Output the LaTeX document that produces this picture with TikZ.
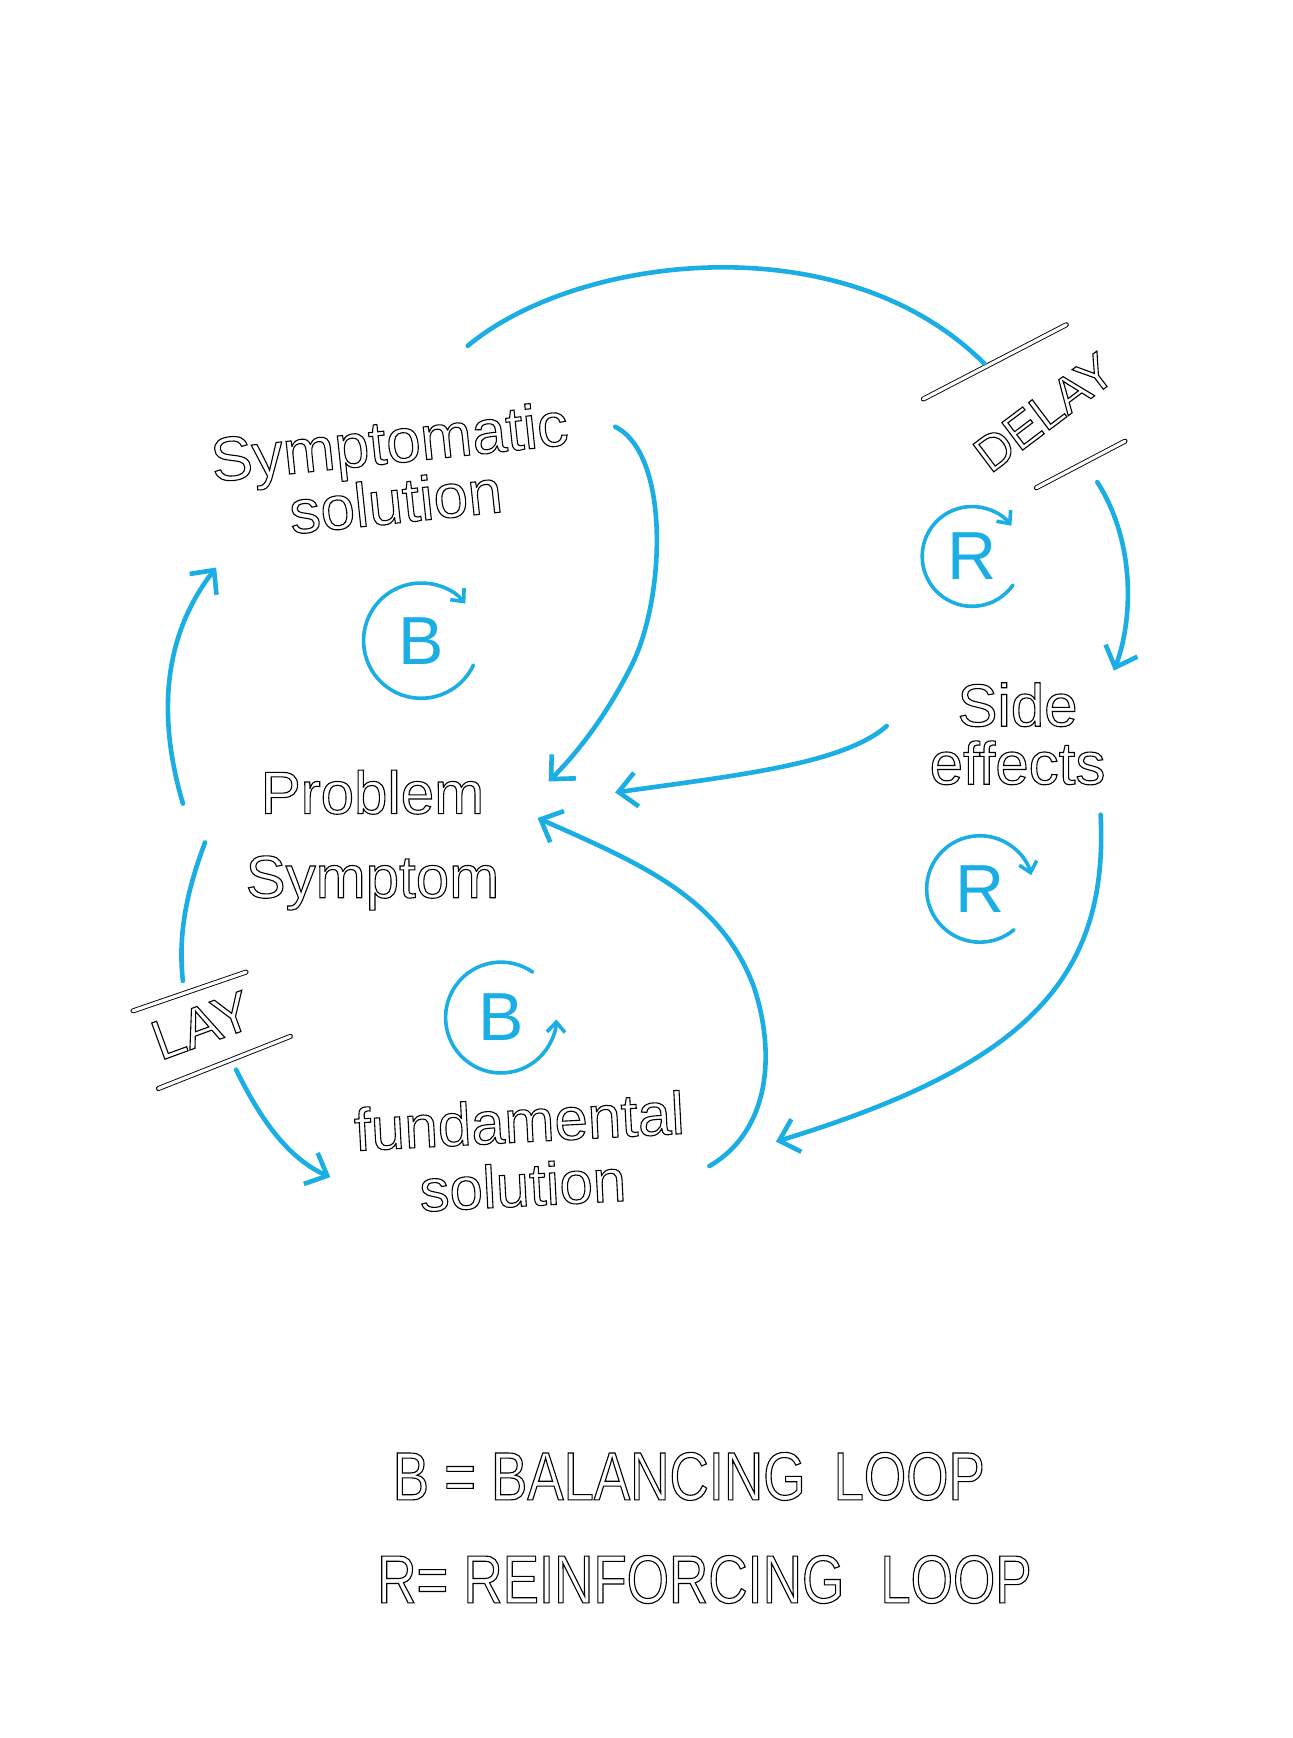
\documentclass[tikz,border=0pt]{standalone}
\usepackage{fontspec}
\setmainfont{Liberation Sans}
\newfontfamily\legendfont[FakeStretch=0.8]{Liberation Sans}
\usetikzlibrary{arrows.meta}
\definecolor{hblue}{RGB}{27,174,229}
\newcommand{\hw}[1]{\special{pdf:literal direct 1 Tr 0.55 w}#1\special{pdf:literal direct 0 Tr}}
\begin{document}
\begin{tikzpicture}[x=0.554pt,y=0.554pt,
  flow/.style={draw=hblue, line width=2.3pt, line cap=round, -{Straight Barb[length=9pt,width=17pt]}},
  flowplain/.style={draw=hblue, line width=2.3pt, line cap=round},
  loopline/.style={draw=hblue, line width=1.8pt, line cap=round, -{Straight Barb[length=5pt,width=9pt]}},
  delaybar/.style={draw=black, line width=0.45pt, double=white, double distance=1.6pt, line cap=round},
  lbl/.style={text=black, align=center, inner sep=0pt},
  looplabel/.style={text=hblue, font=\fontsize{34}{34}\selectfont, inner sep=0pt},
  legend/.style={text=black, font=\legendfont\fontsize{34}{34}\selectfont, inner sep=0pt, anchor=west},
]
\useasboundingbox (0,0) rectangle (1166,-1568);
\fill[white] (0,0) rectangle (1166,-1568);

% labels
\node[lbl, rotate=6, font=\fontsize{31}{30}\selectfont] (symp) at (354,-425) {\hw{Symptomatic}\\\hw{solution}};
\node[lbl, font=\fontsize{30}{42}\selectfont] (prob) at (336,-758) {\hw{Problem}\\\hw{Symptom}};
\node[lbl, font=\fontsize{30}{29}\selectfont] (side) at (918,-662) {\hw{Side}\\\hw{effects}};
\node[lbl, rotate=3, font=\fontsize{30}{32}\selectfont] (fund) at (470,-1040) {\hw{fundamental}\\\hw{solution}};
\node[lbl, rotate=37, font=\fontsize{25}{25}\selectfont] (delayR) at (942,-372) {\hw{DELAY}};
\node[lbl, rotate=20, font=\fontsize{28}{28}\selectfont] (delayL) at (182,-925) {\hw{LAY}};

% loop markers
\node[looplabel] (loopB1) at (380,-578) {B};
\node[looplabel] (loopR1) at (877,-502) {R};
\node[looplabel] (loopR2) at (884,-802) {R};
\node[looplabel] (loopB2) at (452,-918) {B};
\draw[loopline] (loopB1.center) ++(-25:52) arc[start angle=-25, end angle=-320, radius=52];
\draw[loopline] (loopR1.center) ++(-35:45) arc[start angle=-35, end angle=-322, radius=45];
\draw[loopline] (loopR2.center) ++(-50:48) arc[start angle=-50, end angle=-345, radius=48];
\draw[loopline] (loopB2.center) ++(55:50) arc[start angle=55, end angle=358, radius=50];

% delay bars
\coordinate (bar1a) at (833,-360); \coordinate (bar1b) at (962,-293);
\coordinate (bar2a) at (935,-440); \coordinate (bar2b) at (1015,-398);
\coordinate (bar3a) at (120,-912); \coordinate (bar3b) at (222,-877);
\coordinate (bar4a) at (143,-982); \coordinate (bar4b) at (262,-935);
\draw[delaybar] (bar1a) -- (bar1b);
\draw[delaybar] (bar2a) -- (bar2b);
\draw[delaybar] (bar3a) -- (bar3b);
\draw[delaybar] (bar4a) -- (bar4b);

% connector end points
\coordinate (s1) at (422,-312);  \coordinate (d1) at (888,-328);
\coordinate (s2) at (990,-435);  \coordinate (e2) at (1005,-605);
\coordinate (s3) at (800,-655);  \coordinate (e3) at (555,-715);
\coordinate (s4) at (555,-385);  \coordinate (e4) at (495,-705);
\coordinate (s5) at (993,-735);  \coordinate (e5) at (700,-1030);
\coordinate (s6) at (640,-1052); \coordinate (e6) at (485,-738);
\coordinate (s7) at (165,-725);  \coordinate (e7) at (195,-512);
\coordinate (s8) at (185,-760);  \coordinate (d8) at (165,-885);
\coordinate (s9) at (213,-965);  \coordinate (e9) at (298,-1062);

\draw[flowplain] (s1) .. controls (520,-230) and (760,-200) .. (d1);
\draw[flow] (s2) .. controls (1025,-490) and (1022,-560) .. (e2);
\draw[flow] (s3) .. controls (760,-690) and (660,-700) .. (e3);
\draw[flow] (s4) .. controls (605,-410) and (600,-540) .. (570,-600) .. controls (550,-640) and (525,-675) .. (e4);
\draw[flow] (s5) .. controls (1000,-880) and (930,-960) .. (e5);
\draw[flow] (s6) .. controls (695,-1020) and (700,-950) .. (680,-890) .. controls (650,-810) and (580,-780) .. (e6);
\draw[flow] (s7) .. controls (140,-640) and (150,-570) .. (e7);
\draw[flowplain] (s8) .. controls (170,-800) and (160,-840) .. (d8);
\draw[flow] (s9) .. controls (235,-1010) and (260,-1045) .. (e9);

% legend
\node[legend] (leg1) at (354,-1332) {\hw{B = BALANCING\hspace{14pt}LOOP}};
\node[legend] (leg2) at (340,-1425) {\hw{R= REINFORCING\hspace{18pt}LOOP}};
\end{tikzpicture}
\end{document}
